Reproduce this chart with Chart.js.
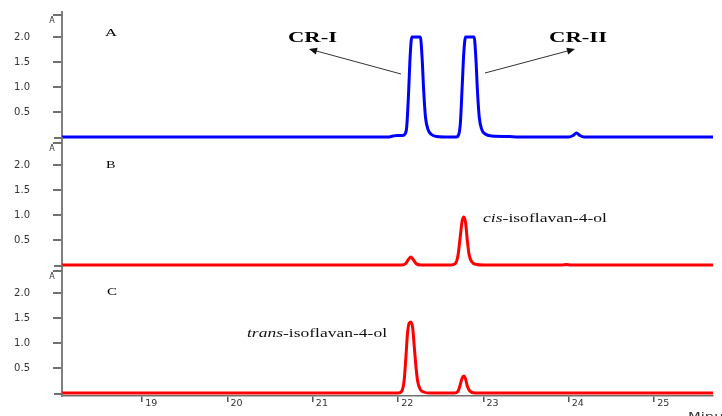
<!DOCTYPE html>
<html>
<head>
<meta charset="utf-8">
<script src="https://cdn.jsdelivr.net/npm/chart.js@4.4.1/dist/chart.umd.min.js"></script>
<style>
  html, body { margin: 0; padding: 0; background: #fff; }
  #wrap { width: 722px; height: 416px; }
</style>
</head>
<body>
<div id="wrap"><canvas id="cromatograma" width="722" height="416"></canvas></div>
<script>
const tempoA = [18.06, 21.88, 21.94, 21.99, 22.05, 22.08, 22.10, 22.12, 22.14, 22.16, 22.26, 22.28, 22.30, 22.32, 22.35, 22.39, 22.45, 22.60,
                22.68, 22.71, 22.73, 22.75, 22.77, 22.79, 22.89, 22.91, 22.93, 22.95, 22.98, 23.02, 23.10, 23.30, 23.40,
                24.00, 24.05, 24.09, 24.13, 24.18, 25.69];
const absA   = [0, 0, 0.02, 0.03, 0.03, 0.06, 0.2, 0.8, 1.6, 2.0, 2.0, 1.6, 0.9, 0.4, 0.15, 0.05, 0.01, 0,
                0, 0.05, 0.3, 1.0, 1.7, 2.0, 2.0, 1.6, 0.9, 0.4, 0.15, 0.06, 0.02, 0.01, 0,
                0, 0.03, 0.08, 0.03, 0, 0];

const tempoB = [18.06, 22.04, 22.09, 22.12, 22.15, 22.18, 22.21, 22.26,
                22.62, 22.67, 22.70, 22.73, 22.75, 22.77, 22.79, 22.81, 22.83, 22.86, 22.92, 23.00,
                23.92, 23.97, 24.02, 25.69];
const absB   = [0, 0, 0.03, 0.11, 0.16, 0.1, 0.03, 0,
                0, 0.03, 0.18, 0.6, 0.88, 0.96, 0.85, 0.5, 0.22, 0.07, 0.01, 0,
                0, 0.01, 0, 0];

const tempoC = [18.06, 22.00, 22.04, 22.07, 22.09, 22.11, 22.13, 22.15, 22.17, 22.19, 22.21, 22.23, 22.26, 22.30, 22.36,
                22.66, 22.70, 22.73, 22.75, 22.77, 22.79, 22.81, 22.84, 22.90, 25.69];
const absC   = [0, 0, 0.03, 0.25, 0.7, 1.2, 1.40, 1.42, 1.3, 0.9, 0.5, 0.22, 0.07, 0.02, 0,
                0, 0.03, 0.18, 0.3, 0.34, 0.28, 0.14, 0.04, 0, 0];

const xTicks = [19, 20, 21, 22, 23, 24, 25];
const yTicks = [0.5, 1.0, 1.5, 2.0];
const paineis = ['A', 'B', 'C'];

function pontos(tempos, valores) {
    return tempos.map((t, i) => ({ x: t, y: valores[i] }));
}

function serie(tempos, valores, cor, eixo) {
    return {
        data: pontos(tempos, valores),
        borderColor: cor,
        borderWidth: 3,
        pointRadius: 0,
        cubicInterpolationMode: 'monotone',
        yAxisID: eixo
    };
}

// Eixo y de cada painel (empilhados no mesmo lado)
function eixoY(peso) {
    return {
        type: 'linear',
        position: 'left',
        stack: 'paineis',
        stackWeight: 1,
        weight: peso,
        min: -0.06,
        max: 2.5,
        afterBuildTicks: scale => { scale.ticks = yTicks.map(v => ({ value: v })); },
        afterFit: scale => {
            scale.width = 62;
            scale.paddingTop = 0;
            scale.paddingBottom = 0;
        },
        border: { color: '#808080', width: 2 },
        grid: { drawOnChartArea: false, drawTicks: true, tickLength: 9, color: '#707070', lineWidth: 2 },
        ticks: {
            padding: 23,
            color: '#333',
            font: { family: 'DejaVu Sans', size: 10 },
            callback: v => v.toFixed(1)
        }
    };
}

// texto esticado na horizontal (a figura original é mais larga que alta)
function textoLargo(ctx, partes, x, y, largura) {
    let total = 0;
    partes.forEach(p => { ctx.font = p[1]; total += ctx.measureText(p[0]).width; });
    ctx.save();
    ctx.translate(x, y);
    ctx.scale(largura / total, 1);
    ctx.textAlign = 'left';
    ctx.textBaseline = 'alphabetic';
    let pos = 0;
    partes.forEach(p => {
        ctx.font = p[1];
        ctx.fillText(p[0], pos, 0);
        pos += ctx.measureText(p[0]).width;
    });
    ctx.restore();
}

function seta(ctx, x1, y1, x2, y2) {
    const ang = Math.atan2(y2 - y1, x2 - x1);
    ctx.strokeStyle = '#333';
    ctx.fillStyle = '#111';
    ctx.lineWidth = 1;
    ctx.beginPath();
    ctx.moveTo(x1, y1);
    ctx.lineTo(x2 - 6 * Math.cos(ang), y2 - 6 * Math.sin(ang));
    ctx.stroke();
    ctx.beginPath();
    ctx.moveTo(x2, y2);
    ctx.lineTo(x2 - 8 * Math.cos(ang) + 3.5 * Math.sin(ang), y2 - 8 * Math.sin(ang) - 3.5 * Math.cos(ang));
    ctx.lineTo(x2 - 8 * Math.cos(ang) - 3.5 * Math.sin(ang), y2 - 8 * Math.sin(ang) + 3.5 * Math.cos(ang));
    ctx.closePath();
    ctx.fill();
}

// Textos, setas e marcas de quebra dos painéis
const anotacoes = {
    id: 'anotacoes',
    afterDraw(chart) {
        const ctx = chart.ctx;
        ctx.save();

        ['yA', 'yB', 'yC'].forEach(id => {
            const s = chart.scales[id];
            const zero = s.getPixelForValue(0);
            ctx.strokeStyle = '#707070';
            ctx.lineWidth = 2;
            ctx.beginPath();
            ctx.moveTo(54, zero + 1); ctx.lineTo(63, zero + 1);
            ctx.moveTo(53, s.top + 3); ctx.lineTo(62, s.top + 3);
            ctx.stroke();
            ctx.fillStyle = '#333';
            ctx.font = '8px "DejaVu Sans"';
            ctx.textAlign = 'center';
            ctx.textBaseline = 'middle';
            ctx.fillText('A', 52, s.top + 8.5);
        });

        ctx.fillStyle = '#000';
        const serif = '"Liberation Serif", "Times New Roman", serif';

        // letras dos painéis
        textoLargo(ctx, [[paineis[0], '11px ' + serif]], 105, 35.5, 12);
        textoLargo(ctx, [[paineis[1], '11px ' + serif]], 106, 167.5, 9.5);
        textoLargo(ctx, [[paineis[2], '11px ' + serif]], 107, 295, 10);

        textoLargo(ctx, [['CR-I', 'bold 14px ' + serif]], 288, 42, 49);
        textoLargo(ctx, [['CR-II', 'bold 14px ' + serif]], 549, 42, 58);

        seta(ctx, 401, 74, 309, 49);
        seta(ctx, 485, 73, 575, 49);

        textoLargo(ctx, [['cis', 'italic 11.5px ' + serif], ['-isoflavan-4-ol', '11.5px ' + serif]], 483, 222, 124);
        textoLargo(ctx, [['trans', 'italic 11.5px ' + serif], ['-isoflavan-4-ol', '11.5px ' + serif]], 247, 337, 140);

        ctx.fillStyle = '#333';
        textoLargo(ctx, [['Minutes', '10px "DejaVu Sans"']], 688, 420, 58);
        ctx.restore();
    }
};

new Chart(document.getElementById('cromatograma'), {
    type: 'line',
    data: {
        datasets: [
            serie(tempoA, absA, '#0000ff', 'yA'),
            serie(tempoB, absB, '#ff0000', 'yB'),
            serie(tempoC, absC, '#ff0000', 'yC')
        ]
    },
    options: {
        responsive: false,
        animation: false,
        devicePixelRatio: 1,
        layout: { padding: { top: 12, right: 9, left: 0, bottom: 0 } },
        plugins: { legend: { display: false }, tooltip: { enabled: false } },
        scales: {
            x: {
                type: 'linear',
                min: 18.06,
                max: 25.69,
                afterBuildTicks: scale => { scale.ticks = xTicks.map(v => ({ value: v })); },
                afterFit: scale => {
                    scale.height = 20;
                    scale.paddingLeft = 0;
                    scale.paddingRight = 0;
                },
                border: { color: '#707070', width: 1.5 },
                grid: { drawOnChartArea: false, drawTicks: true, tickLength: 6, color: '#555', lineWidth: 1.5 },
                ticks: {
                    align: 'start',
                    labelOffset: 3,
                    padding: -4,
                    maxRotation: 0,
                    color: '#333',
                    font: { family: 'DejaVu Sans', size: 9.5 },
                    callback: v => String(v)
                }
            },
            yA: eixoY(3),
            yB: eixoY(2),
            yC: eixoY(1)
        }
    },
    plugins: [anotacoes]
});
</script>
</body>
</html>
